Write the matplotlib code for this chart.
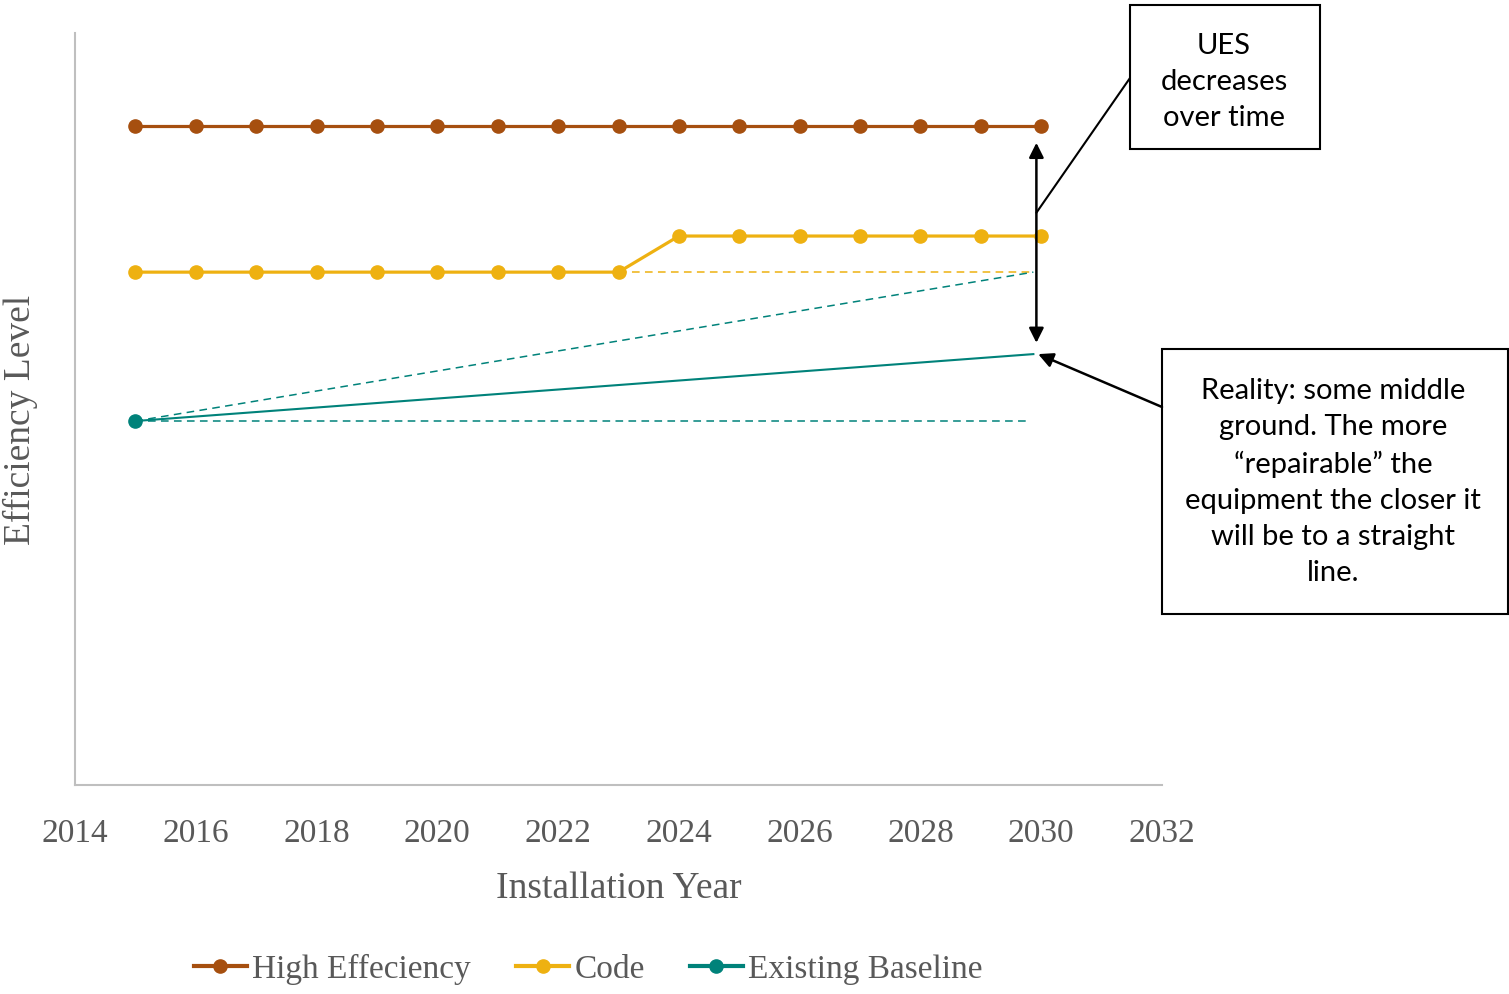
import matplotlib.pyplot as plt
from matplotlib.patches import Rectangle

# --- data (arbitrary efficiency units) ---
years = list(range(2015, 2031))
high_eff = [8.76] * 16
code = [6.82] * 9 + [7.30] * 7
baseline_x = [2015, 2029.87]
baseline_y = [4.84, 5.73]
# dashed guide lines
code_flat_x = [2023, 2029.87]
code_flat_y = [6.82, 6.82]
base_up_x = [2015, 2029.87]
base_up_y = [4.84, 6.82]
base_flat_x = [2015, 2029.8]
base_flat_y = [4.84, 4.84]
# double arrow (UES gap)
arrow_x = 2029.92
arrow_top, arrow_bot = 8.54, 5.88

c_high = '#A64F0F'
c_code = '#EEB111'
c_base = '#00827A'
grey = '#595959'

W, H = 1509, 994
fig = plt.figure(figsize=(W / 100, H / 100), dpi=100)
ax = fig.add_axes([75 / W, 1 - 785 / H, (1162 - 75) / W, (785 - 33) / H])

ax.plot(years, high_eff, color=c_high, lw=2.3, marker='o', ms=9.5, label='High Effeciency')
ax.plot(years, code, color=c_code, lw=2.3, marker='o', ms=9.5, label='Code')
ax.plot(code_flat_x, code_flat_y, color=c_code, lw=1.1, ls=(0, (5, 3.5)))
ax.plot(base_up_x, base_up_y, color=c_base, lw=1.1, ls=(0, (5, 3.5)))
ax.plot(base_flat_x, base_flat_y, color=c_base, lw=1.1, ls=(0, (5, 3.5)))
ax.plot(baseline_x, baseline_y, color=c_base, lw=1.5, marker='o', ms=9.5,
        markevery=[0], label='Existing Baseline')

ax.set_xlim(2014, 2032)
ax.set_ylim(0, 10)
ax.set_xticks(range(2014, 2033, 2))
ax.set_yticks([])
for s in ['top', 'right']:
    ax.spines[s].set_visible(False)
for s in ['left', 'bottom']:
    ax.spines[s].set_color('#BFBFBF')
    ax.spines[s].set_linewidth(1.5)
ax.tick_params(axis='x', length=0, pad=24, labelsize=24, labelcolor=grey)
for t in ax.get_xticklabels():
    t.set_fontfamily('Liberation Serif')

ax.set_xlabel('Installation Year', fontsize=27, color=grey, family='Liberation Serif')
ax.xaxis.set_label_coords(0.5, -0.115)
ax.set_ylabel('Efficiency Level', fontsize=27, color=grey, family='Liberation Serif')
ax.yaxis.set_label_coords(-0.034, 0.485)

leg = ax.legend(loc='center', bbox_to_anchor=(0.472, -0.245), ncol=3, frameon=False,
                prop={'family': 'Liberation Serif', 'size': 24}, handlelength=1.6,
                handletextpad=0.15, columnspacing=1.35)
for t in leg.get_texts():
    t.set_color(grey)
for h in leg.legend_handles:
    h.set_linewidth(3)

# double-headed arrow
ax.annotate('', xy=(arrow_x, arrow_top), xytext=(arrow_x, arrow_bot),
            arrowprops=dict(arrowstyle='<|-|>', color='black', lw=1.8,
                            mutation_scale=22, shrinkA=0, shrinkB=0))

# callout boxes
def fx(px):
    return px / W

def fy(py):
    return 1 - py / H

fig.add_artist(Rectangle((fx(1130), fy(149)), (1320 - 1130) / W, (149 - 5) / H,
                         transform=fig.transFigure, fill=False, ec='black', lw=1.5))
fig.text(fx(1224), fy(82), 'UES\ndecreases\nover time', ha='center', va='center',
         fontsize=21, family='Lato', linespacing=1.48)

fig.add_artist(Rectangle((fx(1162), fy(614)), (1508 - 1162) / W, (614 - 349) / H,
                         transform=fig.transFigure, fill=False, ec='black', lw=1.5))
fig.text(fx(1333), fy(482),
         'Reality: some middle\nground. The more\n\u201crepairable\u201d the\n'
         'equipment the closer it\nwill be to a straight\nline.',
         ha='center', va='center', fontsize=21, family='Lato', linespacing=1.48)

# connector from top box to arrow
ax.annotate('', xy=(arrow_x, 7.61), xycoords='data',
            xytext=(fx(1130), fy(78)), textcoords='figure fraction',
            arrowprops=dict(arrowstyle='-', color='black', lw=1.5, shrinkA=0, shrinkB=0))
# arrow from lower box to the baseline end
ax.annotate('', xy=(2029.95, 5.73), xycoords='data',
            xytext=(fx(1162), fy(407)), textcoords='figure fraction',
            arrowprops=dict(arrowstyle='-|>', color='black', lw=1.8, mutation_scale=22,
                            shrinkA=0, shrinkB=0))

fig.savefig('out.png', dpi=100)
